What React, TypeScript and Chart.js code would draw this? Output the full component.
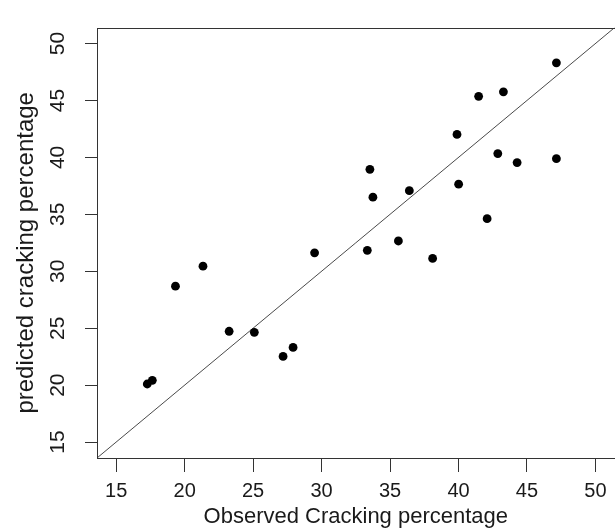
import React, { useEffect, useRef } from 'react';
import { Chart, registerables } from 'chart.js';

Chart.register(...registerables);

const observed = [17.27, 17.64, 19.33, 21.34, 23.25, 25.09, 27.19, 27.92, 29.49, 33.34, 33.53, 33.75, 35.61, 36.41, 38.11, 39.89, 40.01, 41.47, 42.09, 42.87, 43.28, 44.28, 47.15, 47.15];
const predicted = [20.1, 20.42, 28.69, 30.45, 24.73, 24.64, 22.52, 23.31, 31.62, 31.84, 38.95, 36.51, 32.66, 37.08, 31.13, 42.02, 37.65, 45.36, 34.62, 40.34, 45.76, 39.55, 48.31, 39.89];
const xTicks = [15, 20, 25, 30, 35, 40, 45, 50];
const yTicks = [15, 20, 25, 30, 35, 40, 45, 50];
const axisLimits = [13.6, 51.4];
const identityLine = [13.6, 51.4];
const xTitle = 'Observed Cracking percentage';
const yTitle = 'predicted cracking percentage';

const FONT = "'Liberation Sans', Arial, Helvetica, sans-serif";
const AXIS_COLOR = '#333333';

const boxPlugin = {
  id: 'plotBox',
  afterDraw(chart: any) {
    const { ctx, chartArea } = chart;
    const { left, top, right, bottom } = chartArea;
    ctx.save();
    ctx.strokeStyle = AXIS_COLOR;
    ctx.lineWidth = 1;
    ctx.strokeRect(Math.round(left) + 0.5, Math.round(top) + 0.5, Math.round(right - left), Math.round(bottom - top));
    ctx.restore();
  },
};

export default function App() {
  const ref = useRef<HTMLCanvasElement | null>(null);
  useEffect(() => {
    if (!ref.current) return;
    const points = observed.map((x, i) => ({ x, y: predicted[i] }));
    const line = identityLine.map((v) => ({ x: v, y: v }));
    const chart = new Chart(ref.current, {
      type: 'scatter',
      data: {
        datasets: [
          {
            type: 'line',
            data: line,
            borderColor: '#4a4a4a',
            borderWidth: 1,
            pointRadius: 0,
            fill: false,
            order: 2,
          } as any,
          {
            data: points,
            backgroundColor: '#000000',
            borderColor: '#000000',
            borderWidth: 0,
            pointRadius: 4.4,
            order: 1,
          },
        ],
      },
      options: {
        responsive: false,
        animation: false,
        devicePixelRatio: 1,
        layout: { padding: { top: 14, left: 0, right: 0, bottom: 0 } },
        plugins: {
          legend: { display: false },
          tooltip: { enabled: false },
          title: { display: false },
        },
        scales: {
          x: {
            type: 'linear',
            min: axisLimits[0],
            max: axisLimits[1],
            afterBuildTicks: (scale: any) => {
              scale.ticks = xTicks.map((v) => ({ value: v }));
            },
            afterFit: (scale: any) => {
              scale.height = 73;
            },
            border: { display: false },
            grid: {
              drawOnChartArea: false,
              drawTicks: true,
              tickLength: 14,
              color: AXIS_COLOR,
              lineWidth: 1,
            },
            ticks: {
              autoSkip: false,
              maxRotation: 0,
              minRotation: 0,
              padding: 7,
              color: '#1a1a1a',
              font: { family: FONT, size: 20 },
              callback: (v: any) => String(v),
            },
            title: {
              display: true,
              text: xTitle,
              color: '#1a1a1a',
              font: { family: FONT, size: 22 },
              padding: { top: 0, bottom: 1 },
            },
          },
          y: {
            type: 'linear',
            min: axisLimits[0],
            max: axisLimits[1],
            afterBuildTicks: (scale: any) => {
              scale.ticks = yTicks.map((v) => ({ value: v }));
            },
            afterFit: (scale: any) => {
              scale.width = 97;
            },
            border: { display: false },
            grid: {
              drawOnChartArea: false,
              drawTicks: true,
              tickLength: 12,
              color: AXIS_COLOR,
              lineWidth: 1,
            },
            ticks: {
              autoSkip: false,
              minRotation: 90,
              maxRotation: 90,
              crossAlign: 'center',
              padding: 15,
              color: '#1a1a1a',
              font: { family: FONT, size: 21 },
              callback: (v: any) => String(v),
            },
            title: {
              display: true,
              text: yTitle + '   ',
              color: '#1a1a1a',
              font: { family: FONT, size: 24 },
              padding: { top: 12, bottom: 0 },
            },
          },
        },
      },
      plugins: [boxPlugin],
    });
    return () => chart.destroy();
  }, []);

  return (
    <div style={{ position: 'fixed', left: 0, top: 0, width: 615, height: 531, overflow: 'hidden', background: '#fff' }}>
      <canvas ref={ref} width={619} height={531} style={{ display: 'block' }} />
    </div>
  );
}
